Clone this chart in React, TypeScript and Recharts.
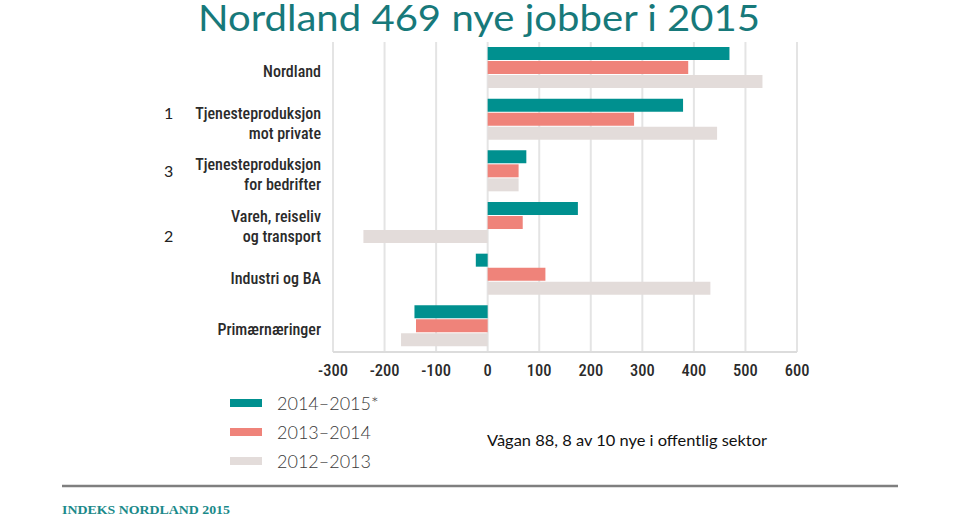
import { Bar, BarChart, CartesianGrid, XAxis, YAxis } from "recharts";

const categories = [
  "Nordland",
  "Tjenesteproduksjon\nmot private",
  "Tjenesteproduksjon\nfor bedrifter",
  "Vareh, reiseliv\nog transport",
  "Industri og BA",
  "Primærnæringer",
];
const jobs1415 = [469, 379, 75, 175, -23, -142];
const jobs1314 = [389, 284, 60, 68, 112, -139];
const jobs1213 = [533, 445, 60, -241, 432, -168];
const xTicks = [-300, -200, -100, 0, 100, 200, 300, 400, 500, 600];
const sideNotes = [
  { label: "1", top: 104 },
  { label: "3", top: 162 },
  { label: "2", top: 227 },
];

const data = categories.map((name, i) => ({
  name,
  "2014–2015*": jobs1415[i],
  "2013–2014": jobs1314[i],
  "2012–2013": jobs1213[i],
}));

const TEAL = "#00908f";
const SALMON = "#ef837a";
const GREY = "#e3dcda";
const narrow = '"Liberation Sans Narrow", "Roboto Condensed", Roboto, sans-serif';

const legendItems = [
  { label: "2014–2015*", color: TEAL },
  { label: "2013–2014", color: SALMON },
  { label: "2012–2013", color: GREY },
];

// eslint-disable-next-line @typescript-eslint/no-explicit-any
function CategoryTick({ x, y, payload }: any) {
  const lines = String(payload.value).split("\n");
  const tx = x - 4;
  const start = y + 9 - ((lines.length - 1) * 20) / 2;
  return (
    <text
      x={tx}
      y={start}
      textAnchor="end"
      fontFamily={narrow}
      fontSize={16}
      fontWeight={500}
      fill="#2b2b2b"
    >
      {lines.map((line, i) => (
        <tspan key={i} x={tx} y={start + i * 20}>
          {line}
        </tspan>
      ))}
    </text>
  );
}

function LegendBox() {
  return (
    <div style={{ position: "absolute", left: 230, top: 388 }}>
      {legendItems.map((it) => (
        <div
          key={it.label}
          style={{ display: "flex", alignItems: "center", height: 29 }}
        >
          <div style={{ width: 32, height: 8, background: it.color }} />
          <span
            style={{
              marginLeft: 15,
              fontFamily: "Lato, sans-serif",
              fontWeight: 300,
              fontSize: 18,
              color: "#3a3a3a",
            }}
          >
            {it.label}
          </span>
        </div>
      ))}
    </div>
  );
}

export default function App() {
  return (
    <div
      style={{
        position: "absolute",
        left: 0,
        top: 0,
        width: 960,
        height: 531,
        background: "#fff",
        overflow: "hidden",
      }}
    >
      <BarChart
        width={960}
        height={531}
        data={data}
        layout="vertical"
        barSize={13}
        barGap={1}
        margin={{ top: 42, right: 163, bottom: 149, left: 0 }}
      >
        <CartesianGrid horizontal={false} stroke="#e4e4e4" strokeWidth={2} />
        <XAxis
          type="number"
          domain={[-300, 600]}
          ticks={xTicks}
          height={30}
          tickLine={false}
          axisLine={{ stroke: "#dcdcdc", strokeWidth: 2 }}
          tick={{ fontFamily: narrow, fontSize: 16.5, fontWeight: 500, fill: "#2b2b2b", dy: 4 }}
        />
        <YAxis
          type="category"
          dataKey="name"
          width={333}
          interval={0}
          axisLine={false}
          tickLine={false}
          tick={<CategoryTick />}
        />
        <Bar dataKey="2014–2015*" fill={TEAL} isAnimationActive={false} />
        <Bar dataKey="2013–2014" fill={SALMON} isAnimationActive={false} />
        <Bar dataKey="2012–2013" fill={GREY} isAnimationActive={false} />
      </BarChart>

      <LegendBox />

      <svg
        width={960}
        height={531}
        style={{ position: "absolute", left: 0, top: 0, pointerEvents: "none" }}
      >
        <text
          x={198}
          y={31}
          fontFamily="Lato, sans-serif"
          fontSize={37}
          fill="#17797a"
          textLength={562}
          lengthAdjust="spacingAndGlyphs"
        >
          Nordland 469 nye jobber i 2015
        </text>
        {sideNotes.map((n) => (
          <text
            key={n.label}
            x={164}
            y={n.top + 15}
            fontFamily="Lato, sans-serif"
            fontSize={16}
            fill="#222"
          >
            {n.label}
          </text>
        ))}
        <text
          x={487}
          y={446}
          fontFamily="Lato, sans-serif"
          fontSize={16}
          fill="#111"
          textLength={280}
          lengthAdjust="spacingAndGlyphs"
        >
          Vågan 88, 8 av 10 nye i offentlig sektor
        </text>
        <line x1={62} x2={898} y1={486} y2={486} stroke="#7f7f7f" strokeWidth={2.5} />
        <text
          x={62}
          y={514}
          fontFamily='"Liberation Serif", "DejaVu Serif", serif'
          fontSize={13}
          fontWeight="bold"
          fill="#1a8a8a"
          textLength={168}
          lengthAdjust="spacingAndGlyphs"
        >
          INDEKS NORDLAND 2015
        </text>
      </svg>
    </div>
  );
}
